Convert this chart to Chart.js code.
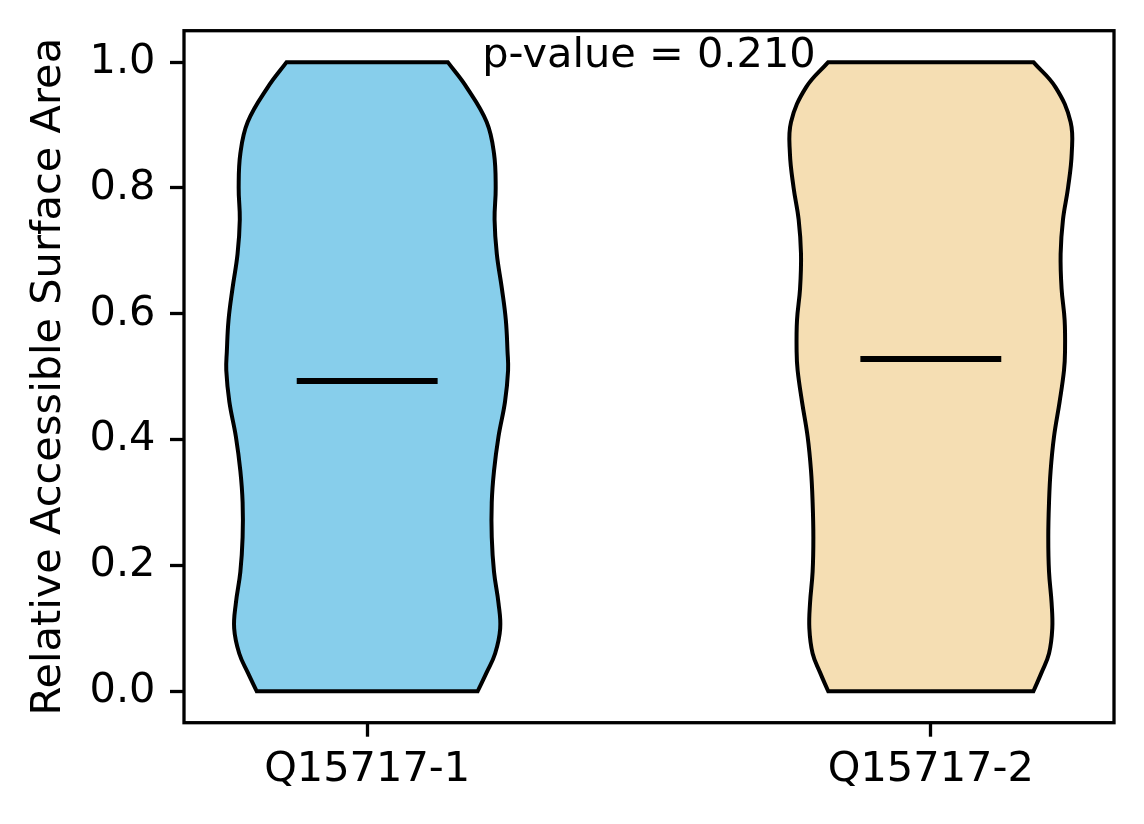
<!DOCTYPE html>
<html lang="en">

<head>
    <meta charset="utf-8" />
    <title>Relative Accessible Surface Area</title>
    <script src="https://cdn.jsdelivr.net/npm/chart.js@4.4.1/dist/chart.umd.min.js"></script>
    <style>
        html, body { margin: 0; padding: 0; background: #fff; overflow: hidden; }
        #wrap { width: 1144px; height: 824px; }
    </style>
</head>

<body>
    <div id="wrap"><canvas id="violinChart" width="1144" height="824"></canvas></div>
    <script>
        // values
        const categories = ['Q15717-1', 'Q15717-2'];
        const colors = ['#87ceeb', '#f5deb3'];
        // violin outline: y levels and half widths (in x units) at each level
        const levels = [0, 0.03, 0.06, 0.10, 0.14, 0.19, 0.245, 0.30, 0.35, 0.405, 0.46,
            0.51, 0.54, 0.59, 0.64, 0.695, 0.75, 0.80, 0.855, 0.905, 0.96, 1.0];
        const halfWidth1 = [0.196, 0.212, 0.227, 0.236, 0.233, 0.225, 0.221, 0.221, 0.225, 0.233, 0.2445,
            0.250, 0.249, 0.246, 0.239, 0.230, 0.226, 0.228, 0.225, 0.212, 0.1765, 0.143];
        const halfWidth2 = [0.182, 0.1966, 0.2097, 0.2155, 0.2143, 0.2097, 0.2084, 0.2097, 0.2125, 0.2186, 0.2285,
            0.2363, 0.2381, 0.2374, 0.232, 0.2303, 0.2345, 0.2434, 0.250, 0.248, 0.2214, 0.182];
        const medians = [0.493, 0.528];
        const yTicks = [0, 0.2, 0.4, 0.6, 0.8, 1.0];
        const pValue = 0.210;

        const FONT = { family: 'DejaVu Sans', size: 41.5 };
        Chart.defaults.color = '#000';
        Chart.defaults.font.family = FONT.family;
        Chart.defaults.font.size = FONT.size;

        // closed outline; corner points are doubled so the spline keeps them sharp
        function outline(pos, widths) {
            const n = levels.length;
            const pts = [{ x: pos, y: levels[0] }, { x: pos - widths[0], y: levels[0] }];
            for (let i = 0; i < n; i++) pts.push({ x: pos - widths[i], y: levels[i] });
            pts.push({ x: pos - widths[n - 1], y: levels[n - 1] });
            pts.push({ x: pos + widths[n - 1], y: levels[n - 1] });
            for (let i = n - 1; i >= 0; i--) pts.push({ x: pos + widths[i], y: levels[i] });
            pts.push({ x: pos + widths[0], y: levels[0] });
            pts.push({ x: pos, y: levels[0] });
            return pts;
        }

        const widthsByViolin = [halfWidth1, halfWidth2];
        const violinSets = categories.map((c, i) => ({
            label: c,
            data: outline(i + 1, widthsByViolin[i]),
            borderColor: '#000',
            borderWidth: 4,
            backgroundColor: colors[i],
            fill: 'shape',
            tension: 0.4,
            pointRadius: 0,
            pointHoverRadius: 0,
            order: 2
        }));
        const medianSets = medians.map((m, i) => ({
            label: 'median ' + categories[i],
            data: [{ x: i + 1 - 0.125, y: m }, { x: i + 1 + 0.125, y: m }],
            borderColor: '#000',
            borderWidth: 6,
            borderCapStyle: 'butt',
            fill: false,
            tension: 0,
            pointRadius: 0,
            pointHoverRadius: 0,
            order: 1
        }));

        // box around the plot area and the p-value note
        const frame = {
            id: 'frame',
            afterDraw(chart) {
                const { ctx, chartArea: a } = chart;
                ctx.save();
                ctx.strokeStyle = '#000';
                ctx.lineWidth = 3.3;
                ctx.strokeRect(a.left, a.top, a.right - a.left, a.bottom - a.top);
                ctx.restore();
            }
        };
        const note = {
            id: 'note',
            afterDatasetsDraw(chart) {
                const { ctx, scales } = chart;
                ctx.save();
                ctx.font = FONT.size + 'px "' + FONT.family + '"';
                ctx.fillStyle = '#000';
                ctx.textAlign = 'center';
                ctx.textBaseline = 'alphabetic';
                ctx.fillText('p-value = ' + pValue.toFixed(3),
                    scales.x.getPixelForValue(1.5), scales.y.getPixelForValue(0.992));
                ctx.restore();
            }
        };

        const tickGrid = { drawOnChartArea: false, drawTicks: true, tickLength: 14, tickWidth: 3.3, tickColor: '#000' };

        new Chart(document.getElementById('violinChart'), {
            type: 'line',
            data: { datasets: [...medianSets, ...violinSets] },
            options: {
                responsive: false,
                devicePixelRatio: 1,
                animation: false,
                layout: { padding: { left: 0, top: 30.7, right: 30, bottom: 0 } },
                plugins: { legend: { display: false }, tooltip: { enabled: false } },
                scales: {
                    x: {
                        type: 'linear',
                        min: 0.675,
                        max: 2.325,
                        afterBuildTicks: s => { s.ticks = categories.map((c, i) => ({ value: i + 1 })); },
                        afterFit: s => { s.height = 101.3; s.paddingLeft = 0; s.paddingRight = 0; },
                        ticks: { callback: v => categories[v - 1], padding: 9, maxRotation: 0, autoSkip: false },
                        grid: tickGrid,
                        border: { display: false }
                    },
                    y: {
                        type: 'linear',
                        min: -0.05,
                        max: 1.05,
                        afterBuildTicks: s => { s.ticks = yTicks.map(v => ({ value: v })); },
                        afterFit: s => { s.width = 184; s.paddingTop = 0; s.paddingBottom = 0; },
                        ticks: { callback: v => v.toFixed(1), padding: 14.5 },
                        grid: tickGrid,
                        border: { display: false },
                        title: {
                            display: true,
                            text: 'Relative Accessible Surface Area',
                            padding: { top: 24, bottom: 0 }
                        }
                    }
                }
            },
            plugins: [frame, note]
        });
    </script>
</body>

</html>
